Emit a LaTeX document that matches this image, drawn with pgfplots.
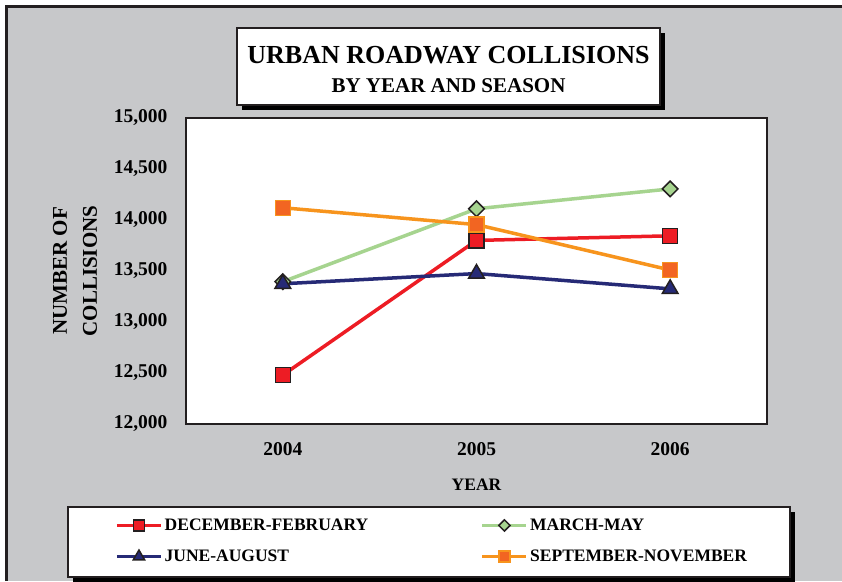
\documentclass[border=0pt]{standalone}
\usepackage{pgfplots}
\pgfplotsset{compat=1.18}
\usepackage{fontspec}
\setmainfont{Liberation Serif}
\definecolor{bggray}{HTML}{C7C8CA}
\definecolor{dk}{HTML}{231F20}
\definecolor{cred}{HTML}{ED1C24}
\definecolor{cgreen}{HTML}{A6D48F}
\definecolor{cnavy}{HTML}{262A76}
\definecolor{corange}{HTML}{F7941D}
\definecolor{corfill}{HTML}{F26522}
\begin{document}
\begin{tikzpicture}[x=1pt,y=1pt]
\useasboundingbox (0,0) rectangle (842,-581);
\fill[white] (0,0) rectangle (842,-581);
\fill[bggray] (5,-5) rectangle (842,-581);
\draw[dk,line width=3pt] (6.5,-581) -- (6.5,-6.5) -- (842,-6.5);
% title box
\fill[black] (242,-33) rectangle (665,-110);
\filldraw[fill=white,draw=dk,line width=1.5pt] (237,-28) rectangle (660,-105);
\node[anchor=base,inner sep=0pt,font=\fontsize{26}{30}\selectfont\bfseries] at (448.5,-63) {URBAN ROADWAY COLLISIONS};
\node[anchor=base,inner sep=0pt,font=\fontsize{21}{25}\selectfont\bfseries] at (448.5,-92) {BY YEAR AND SEASON};
% legend box
\fill[black] (73,-512) rectangle (795,-582);
\filldraw[fill=white,draw=dk,line width=1.5pt] (68,-507) rectangle (790,-577);
\begin{axis}[
  at={(186pt,-424pt)}, anchor=south west,
  scale only axis, width=581pt, height=306pt,
  xmin=-0.5, xmax=2.5, ymin=12000, ymax=15000,
  xtick={0,1,2}, xticklabels={2004,2005,2006},
  ytick={12000,12500,13000,13500,14000,14500,15000},
  scaled y ticks=false,
  yticklabel={\pgfmathprintnumber[fixed,precision=0,1000 sep={,},assume math mode=true]{\tick}},
  major tick length=0pt,
  axis line style={dk,line width=2pt},
  axis background/.style={fill=white},
  /pgf/number format/assume math mode=true,
  yticklabel style={font=\fontsize{19.5}{22}\selectfont\bfseries, xshift=-15pt},
  xticklabel style={font=\fontsize{19.5}{22}\selectfont\bfseries, yshift=-15pt},
  xlabel={YEAR},
  xlabel style={font=\fontsize{17.5}{20}\selectfont\bfseries, at={(axis description cs:0.5,-0.199)}, anchor=center},
  ylabel={NUMBER OF\\COLLISIONS},
  ylabel style={font=\fontsize{21}{30}\selectfont\bfseries, align=center, at={(axis description cs:-0.191,0.5)}, anchor=center, rotate=0},
  legend columns=2,
  legend cell align=left,
  legend style={draw=none, fill=none, at={(axis description cs:-0.1222,-0.3823)}, anchor=west,
    inner sep=0pt, row sep=14pt,
    font=\fontsize{17.5}{20}\selectfont\bfseries,
    nodes={text width=314pt, align=left, inner sep=2pt}},
  legend image code/.code={\draw[mark repeat=2,mark phase=2,#1,/tikz/every mark/.append style={scale=0.72}] plot coordinates {(0pt,0pt)(22pt,0pt)(44pt,0pt)};},
]
\addplot[cred, line width=3.5pt, mark=square*, mark size=7.5pt, mark options={fill=cred, draw=dk, line width=1.5pt}]
  coordinates {(0,12480)(1,13800)(2,13845)};
\addlegendentry{DECEMBER-FEBRUARY}
\addplot[cgreen, line width=3.5pt, mark=square*, mark size=5.5pt, mark options={fill=cgreen, draw=dk, line width=1.5pt, rotate=45}]
  coordinates {(0,13395)(1,14110)(2,14305)};
\addlegendentry{MARCH-MAY}
\addplot[cnavy, line width=3.5pt, mark=triangle*, mark size=9pt, mark options={fill=cnavy, draw=dk, line width=1.5pt}]
  coordinates {(0,13375)(1,13475)(2,13325)};
\addlegendentry{JUNE-AUGUST}
\addplot[corange, line width=3.5pt, mark=square*, mark size=7.5pt, mark options={fill=corfill, draw=corange, line width=1.5pt}]
  coordinates {(0,14120)(1,13955)(2,13510)};
\addlegendentry{SEPTEMBER-NOVEMBER}
\end{axis}
\end{tikzpicture}
\end{document}
